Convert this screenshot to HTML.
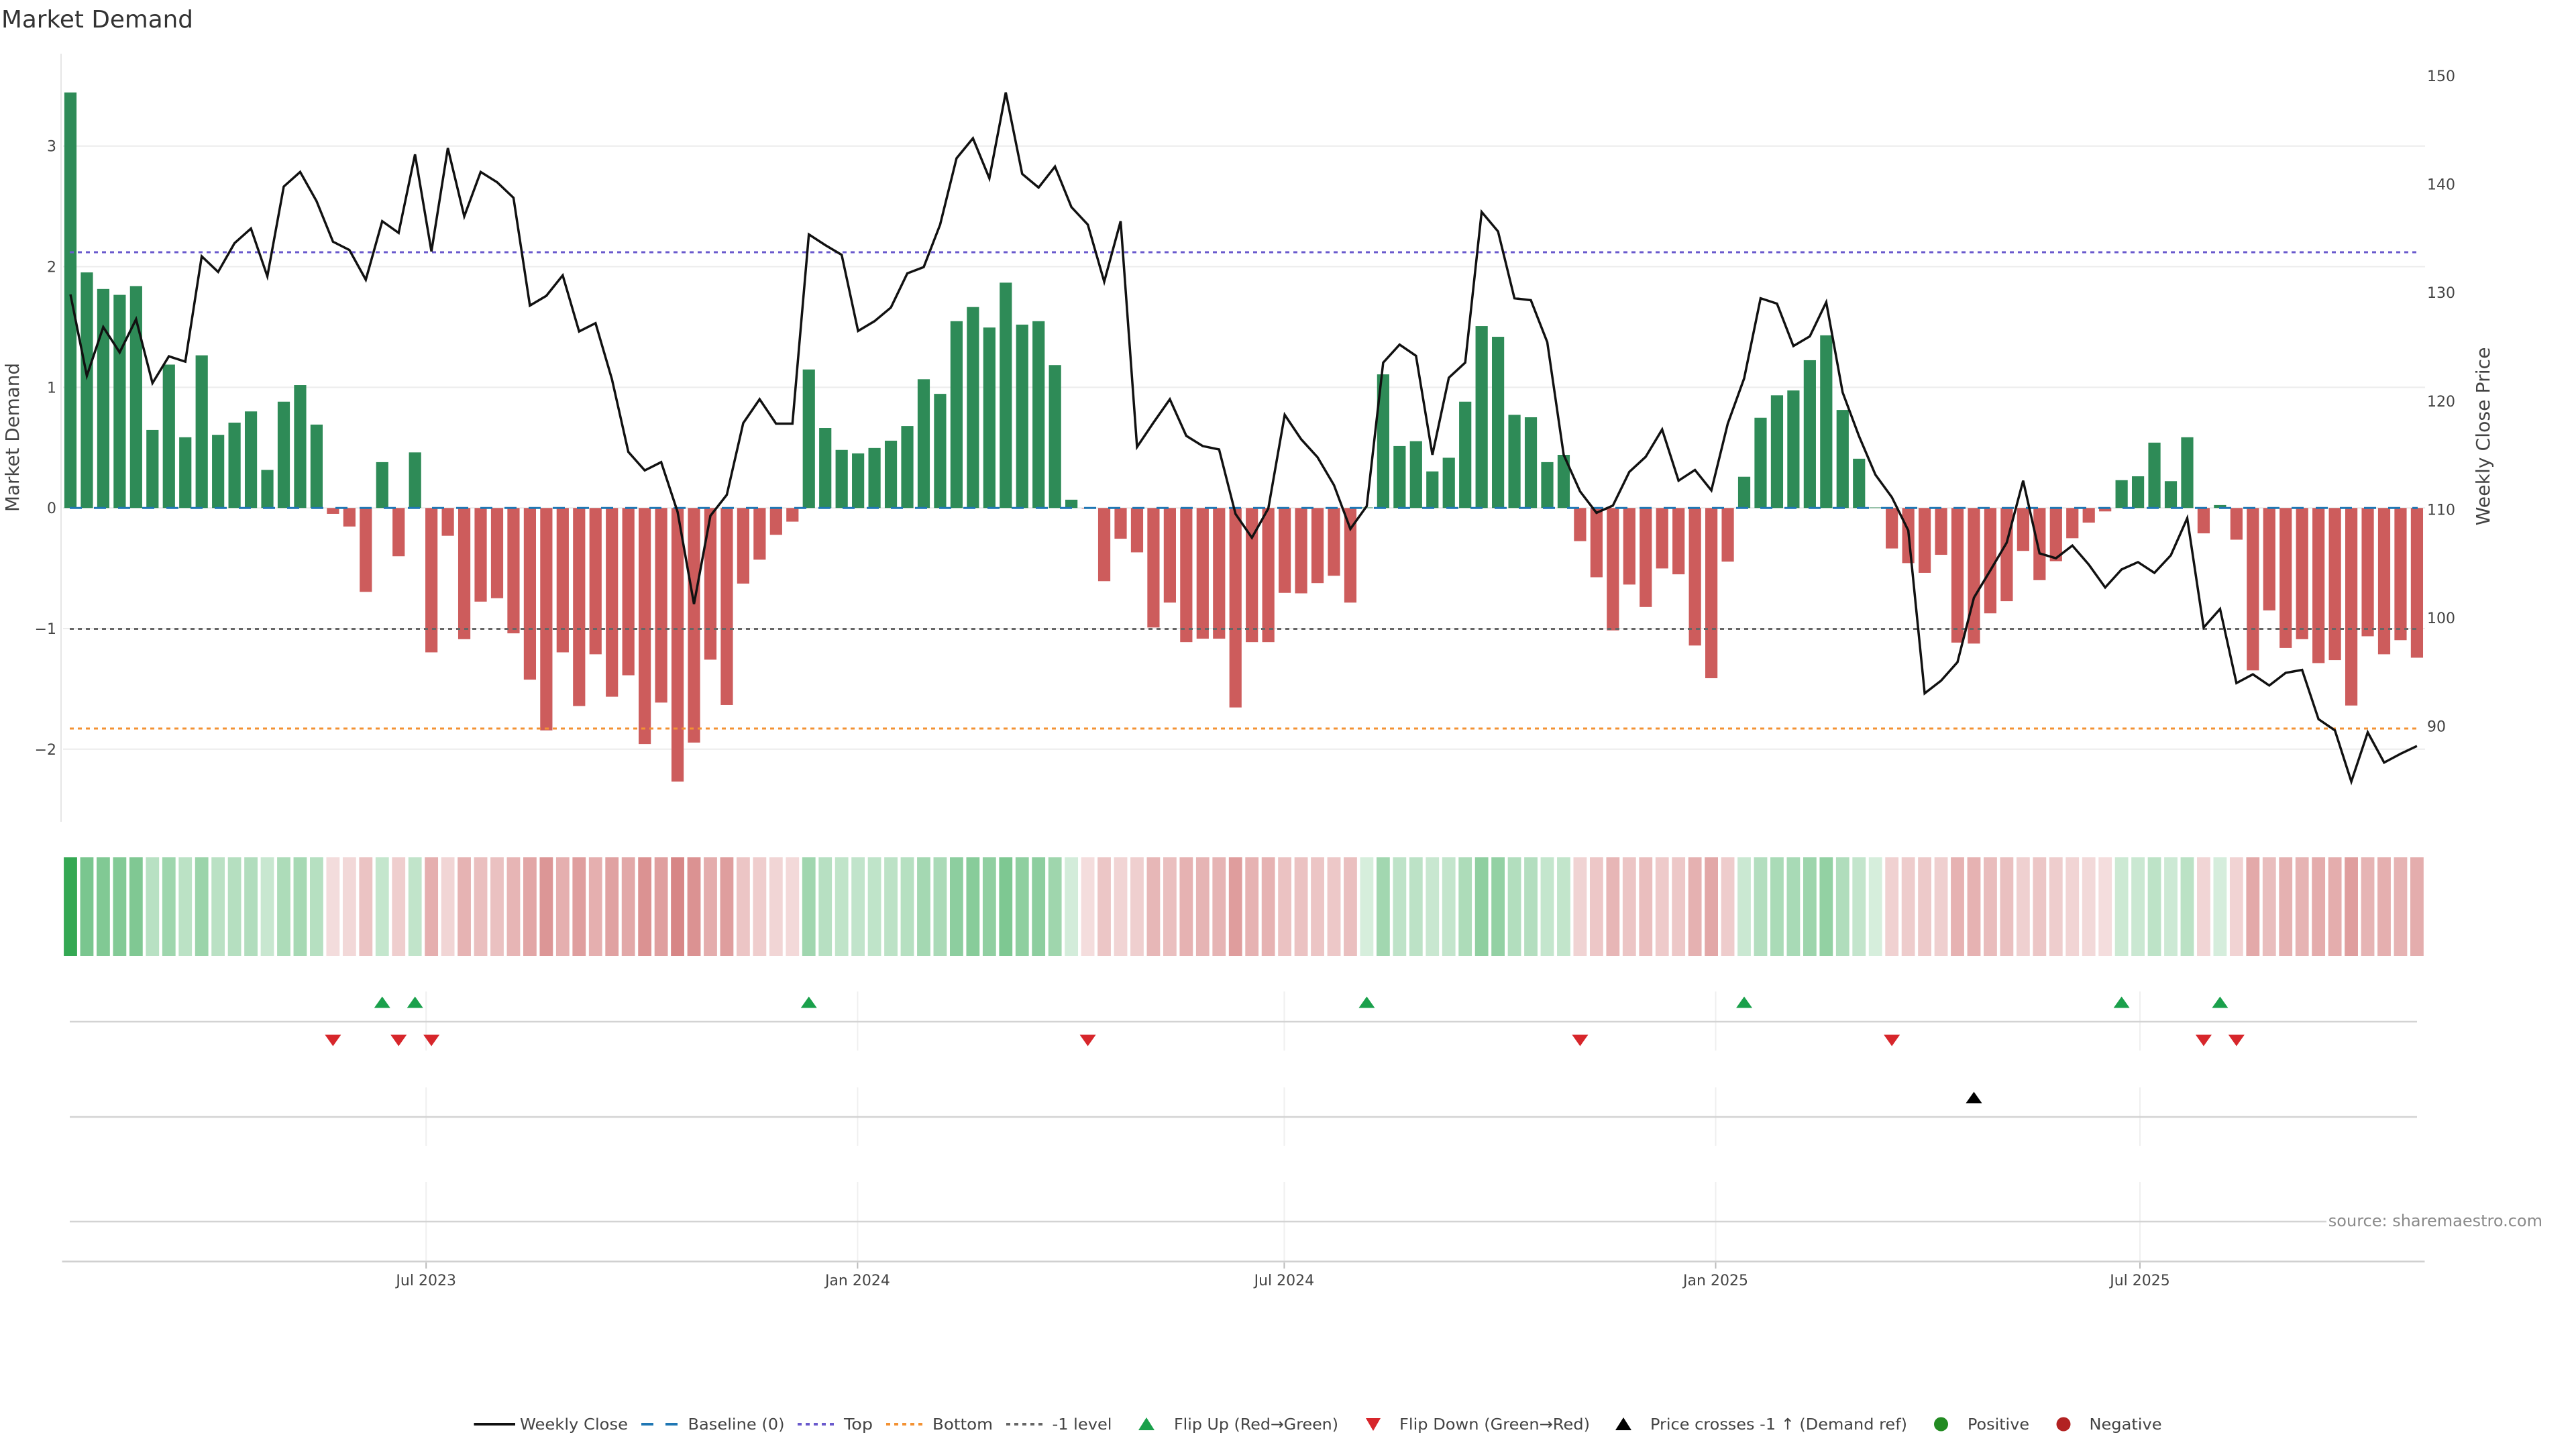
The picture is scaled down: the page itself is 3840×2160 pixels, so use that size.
<!DOCTYPE html>
<html>
<head>
<meta charset="utf-8">
<style>
html,body{margin:0;padding:0;background:#fff;}
svg{display:block;font-family:"DejaVu Sans","Liberation Sans",sans-serif;}
</style>
</head>
<body>
<svg id="c" xmlns="http://www.w3.org/2000/svg" width="3840" height="2160" viewBox="0 0 3840 2160">
<rect x="0" y="0" width="3840" height="2160" fill="#ffffff"/>
<!-- title -->
<text x="2" y="41" font-size="35.5" fill="#333" textLength="286" lengthAdjust="spacingAndGlyphs">Market Demand</text>

<!-- gridlines -->
<g stroke="#ececec" stroke-width="2">
<line x1="94" y1="217.7" x2="3615" y2="217.7"/>
<line x1="94" y1="397.5" x2="3615" y2="397.5"/>
<line x1="94" y1="577.4" x2="3615" y2="577.4"/>
<line x1="94" y1="757.2" x2="3615" y2="757.2"/>
<line x1="94" y1="937.0" x2="3615" y2="937.0"/>
<line x1="94" y1="1116.8" x2="3615" y2="1116.8"/>
</g>
<line x1="91" y1="80" x2="91" y2="1225" stroke="#e6e6e6" stroke-width="2"/>

<g id="bars"></g>

<!-- reference lines -->
<line x1="104" y1="757.2" x2="3604" y2="757.2" stroke="#1f77b4" stroke-width="3" stroke-dasharray="18,18"/>
<line x1="104" y1="376" x2="3604" y2="376" stroke="#6a5acd" stroke-width="3" stroke-dasharray="6,6"/>
<line x1="104" y1="1086" x2="3604" y2="1086" stroke="#f39233" stroke-width="3" stroke-dasharray="6,6"/>
<line x1="104" y1="937.5" x2="3604" y2="937.5" stroke="#666666" stroke-width="3" stroke-dasharray="6,6"/>

<g id="pline"></g>

<!-- left ticks -->
<g font-size="22" fill="#444" text-anchor="end">
<text x="84" y="225.7">3</text>
<text x="84" y="405.5">2</text>
<text x="84" y="585.4">1</text>
<text x="84" y="765.2">0</text>
<text x="84" y="945.0">−1</text>
<text x="84" y="1124.8">−2</text>
</g>
<!-- right ticks -->
<g font-size="22" fill="#444" text-anchor="start">
<text x="3618" y="121">150</text>
<text x="3618" y="282.6">140</text>
<text x="3618" y="444.2">130</text>
<text x="3618" y="605.8">120</text>
<text x="3618" y="767.4">110</text>
<text x="3618" y="929">100</text>
<text x="3618" y="1090.6">90</text>
</g>
<!-- axis titles -->
<text transform="translate(28,652) rotate(-90)" font-size="28" fill="#444" text-anchor="middle" textLength="222" lengthAdjust="spacingAndGlyphs">Market Demand</text>
<text transform="translate(3711,650.5) rotate(-90)" font-size="28" fill="#444" text-anchor="middle" textLength="266" lengthAdjust="spacingAndGlyphs">Weekly Close Price</text>

<g id="strip"></g>

<!-- panel grid -->
<g id="vgrid" stroke="#efefef" stroke-width="2"></g>
<g stroke="#d3d3d3" stroke-width="2.5">
<line x1="104" y1="1523" x2="3603" y2="1523"/>
<line x1="104" y1="1665" x2="3603" y2="1665"/>
<line x1="104" y1="1821" x2="3603" y2="1821"/>
</g>
<line x1="92.5" y1="1880.5" x2="3614.5" y2="1880.5" stroke="#d0d0d0" stroke-width="2.5"/>

<g id="marks"></g>

<!-- x tick labels -->
<g font-size="22" fill="#444" text-anchor="middle">
<text x="635.2" y="1916">Jul 2023</text>
<text x="1278.4" y="1916">Jan 2024</text>
<text x="1914.4" y="1916">Jul 2024</text>
<text x="2557.5" y="1916">Jan 2025</text>
<text x="3190" y="1916">Jul 2025</text>
</g>

<!-- source -->
<rect x="3468" y="1806" width="326" height="28" fill="#fff"/>
<text x="3790" y="1828" font-size="24" fill="#8a8a8a" text-anchor="end">source: sharemaestro.com</text>

<!-- legend -->
<g>
<line x1="706.5" y1="2123" x2="768" y2="2123" stroke="#111" stroke-width="4"/>
<line x1="956" y1="2123" x2="1011" y2="2123" stroke="#1f77b4" stroke-width="4" stroke-dasharray="18,18"/>
<line x1="1189" y1="2123" x2="1243" y2="2123" stroke="#6a5acd" stroke-width="4" stroke-dasharray="6,6"/>
<line x1="1321" y1="2123" x2="1375" y2="2123" stroke="#f39233" stroke-width="4" stroke-dasharray="6,6"/>
<line x1="1500" y1="2123" x2="1554" y2="2123" stroke="#666" stroke-width="4" stroke-dasharray="6,6"/>
<polygon points="1697,2132 1721,2132 1709,2113" fill="#1aa04b"/>
<polygon points="2036,2114 2058,2114 2047,2133" fill="#d7262b"/>
<polygon points="2408,2132 2432,2132 2420,2113" fill="#000"/>
<circle cx="2893.5" cy="2123" r="10.5" fill="#228b22"/>
<circle cx="3076" cy="2123" r="10.5" fill="#b22222"/>
</g>
<g font-size="23.5" fill="#444" lengthAdjust="spacingAndGlyphs">
<text x="775" y="2131" textLength="161" lengthAdjust="spacingAndGlyphs">Weekly Close</text>
<text x="1025.5" y="2131" textLength="144" lengthAdjust="spacingAndGlyphs">Baseline (0)</text>
<text x="1258" y="2131" textLength="43" lengthAdjust="spacingAndGlyphs">Top</text>
<text x="1390" y="2131" textLength="90" lengthAdjust="spacingAndGlyphs">Bottom</text>
<text x="1568.5" y="2131" textLength="89" lengthAdjust="spacingAndGlyphs">-1 level</text>
<text x="1750" y="2131" textLength="245" lengthAdjust="spacingAndGlyphs">Flip Up (Red→Green)</text>
<text x="2086" y="2131" textLength="284" lengthAdjust="spacingAndGlyphs">Flip Down (Green→Red)</text>
<text x="2460" y="2131" textLength="383" lengthAdjust="spacingAndGlyphs">Price crosses -1 ↑ (Demand ref)</text>
<text x="2933" y="2131" textLength="92" lengthAdjust="spacingAndGlyphs">Positive</text>
<text x="3114.5" y="2131" textLength="108" lengthAdjust="spacingAndGlyphs">Negative</text>
</g>
</svg>
<script>
(function(){
var ns="http://www.w3.org/2000/svg";
function el(t,a,p){var e=document.createElementNS(ns,t);for(var k in a)e.setAttribute(k,a[k]);p.appendChild(e);return e;}
var bz=[52,421,455,467,449,744,610,759,591,754,729,706,826,686,652,733,916,942,1076,810,1003,790,1200,961,1173,1096,1089,1161,1256,1360,1200,1310,1204,1291,1247,1388,1303,1465,1385,1215,1308,1059,1010,959,932,620,740,785,792,781,766,736,640,670,521,492,534,442,528,521,611,887,905,1054,967,995,1149,1098,1179,1172,1172,1313,1179,1179,1078,1079,1058,1043,1098,903,630,777,767,829,801,686,531,553,713,718,810,795,972,1046,1155,1061,1107,1028,1040,1186,1253,1014,840,719,673,663,601,550,703,803,903,987,1017,1037,1000,1180,1182,1120,1095,992,1052,1013,966,934,911,847,839,770,849,759,956,898,969,1237,1114,1191,1173,1222,1216,1309,1167,1204,1175,1211];
var lz=[466,633,533,585,517,648,593,604,388,420,361,331,429,245,215,275,358,375,436,316,340,179,378,166,306,215,236,268,489,469,427,542,525,640,789,827,810,912,1101,920,877,730,681,731,731,343,365,385,541,521,493,423,410,323,187,146,228,52,219,247,204,287,323,440,316,779,729,681,756,777,784,916,965,905,713,763,800,857,947,900,606,569,592,795,637,606,297,337,474,478,564,795,870,914,899,830,799,743,848,826,868,731,638,474,485,572,552,482,667,757,836,882,950,1284,1258,1220,1088,1032,975,848,997,1007,981,1020,1067,1030,1015,1037,1001,925,1149,1111,1263,1245,1268,1242,1236,1337,1360,1465,1364,1426,1408,1392];
function Y(z){return 100+z*1140/1568;}
var y0=Y(904);
var vmax=(904-52)/247.33;
var gb=document.getElementById("bars"), gs=document.getElementById("strip"), gl=document.getElementById("pline");
var pts=[];
for(var i=0;i<144;i++){
  var x=95.9+24.461*i, cx=x+9.1;
  var ye=Y(bz[i]);
  var pos=bz[i]<904;
  var top=Math.min(ye,y0), h=Math.max(Math.abs(ye-y0),0.8);
  el("rect",{x:x.toFixed(2),y:top.toFixed(2),width:"18.2",height:h.toFixed(2),fill:pos?"#2e8b57":"#cd5c5c"},gb);
  var v=(904-bz[i])/247.33;
  var a=0.2+0.8*Math.abs(v)/vmax; if(a>1)a=1;
  var base=pos?[52,168,83]:[200,88,88];
  var c=base.map(function(q){return Math.round(255-a*(255-q));});
  el("rect",{x:(cx-9.9).toFixed(2),y:"1278",width:"19.8",height:"147",fill:"rgb("+c.join(",")+")"},gs);
  pts.push(cx.toFixed(2)+","+Y(lz[i]).toFixed(2));
}
el("polyline",{points:pts.join(" "),fill:"none",stroke:"#111","stroke-width":"3.5","stroke-linejoin":"miter","stroke-miterlimit":"4"},gl);
var vg=document.getElementById("vgrid");
[635.2,1278.4,1914.4,2557.5,3190].forEach(function(tx){
  [[1478,1566],[1621,1708],[1762,1879]].forEach(function(s){
    el("line",{x1:tx,y1:s[0],x2:tx,y2:s[1]},vg);
  });
  el("line",{x1:tx,y1:1882,x2:tx,y2:1891,stroke:"#bbbbbb","stroke-width":"2"},document.getElementById("marks"));
});
var gm=document.getElementById("marks");
function up(cx,cy,col){el("polygon",{points:(cx-12)+","+(cy+8.5)+" "+(cx+12)+","+(cy+8.5)+" "+cx+","+(cy-8.5),fill:col},gm);}
function dn(cx,cy,col){el("polygon",{points:(cx-12)+","+(cy-8.5)+" "+(cx+12)+","+(cy-8.5)+" "+cx+","+(cy+8.5),fill:col},gm);}
function cxOf(i){return 105+24.461*i;}
[19,21,45,79,102,125,131].forEach(function(i){up(cxOf(i),1494,"#1aa04b");});
[16,20,22,62,92,111,130,132].forEach(function(i){dn(cxOf(i),1551,"#d7262b");});
[116].forEach(function(i){up(cxOf(i),1636,"#000000");});
})();
</script>
</body>
</html>
